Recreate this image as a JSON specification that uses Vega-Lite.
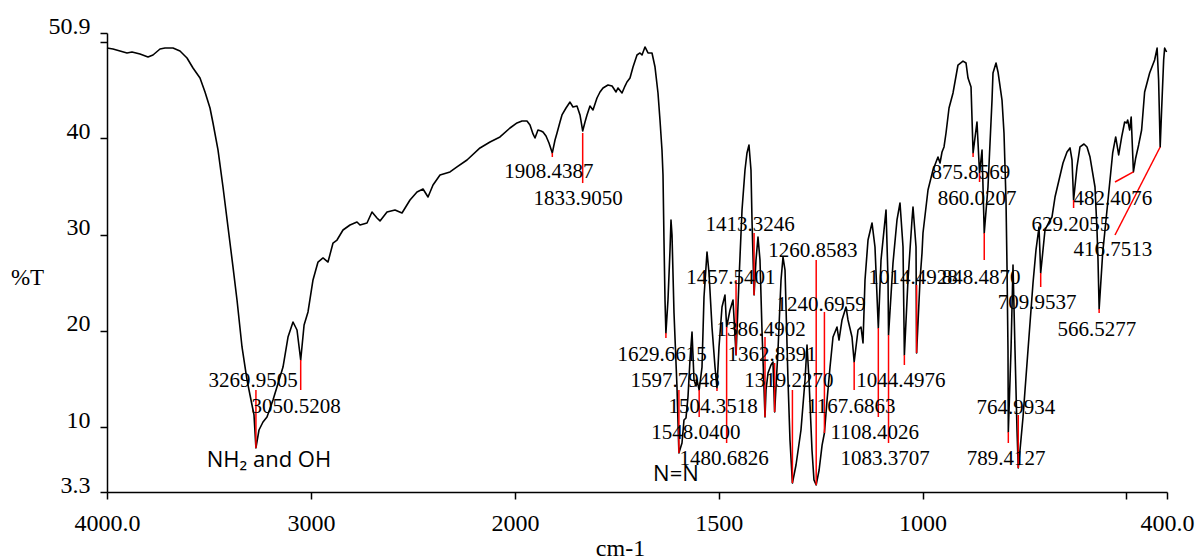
{
  "$schema": "https://vega.github.io/schema/vega-lite/v6.json",
  "width": 1060,
  "height": 459,
  "autosize": {"type": "none"},
  "padding": {"left": 107, "top": 33, "right": 31, "bottom": 67},
  "background": "white",
  "config": {"view": {"stroke": null}},
  "datasets": {
    "curve": [
      {"wn":4000,"t":49.34},{"wn":3970.6,"t":49.24},{"wn":3936.3,"t":49.03},{"wn":3902.0,"t":48.83},{"wn":3877.5,"t":48.93},{"wn":3838.2,"t":48.72},{"wn":3799.0,"t":48.41},{"wn":3774.5,"t":48.62},{"wn":3740.2,"t":49.24},{"wn":3715.7,"t":49.34},{"wn":3676.5,"t":49.34},{"wn":3642.2,"t":49.03},{"wn":3607.8,"t":48.31},{"wn":3578.4,"t":47.27},{"wn":3544.1,"t":46.23},{"wn":3519.6,"t":44.78},{"wn":3495.1,"t":43.12},{"wn":3480.4,"t":41.57},{"wn":3455.9,"t":38.77},{"wn":3431.4,"t":34.93},{"wn":3406.9,"t":30.78},{"wn":3382.3,"t":26.63},{"wn":3362.7,"t":23.21},{"wn":3338.2,"t":18.34},{"wn":3313.7,"t":14.92},{"wn":3294.1,"t":12.84},{"wn":3279.4,"t":11.29},{"wn":3269.95,"t":7.87},{"wn":3254.9,"t":9.73},{"wn":3235.3,"t":10.56},{"wn":3215.7,"t":11.08},{"wn":3186.3,"t":12.84},{"wn":3151.9,"t":15.23},{"wn":3137.2,"t":16.26},{"wn":3112.7,"t":19.37},{"wn":3088.2,"t":20.93},{"wn":3068.6,"t":20.10},{"wn":3050.52,"t":16.99},{"wn":3033.9,"t":20.62},{"wn":3014.7,"t":21.97},{"wn":2990.2,"t":25.29},{"wn":2965.7,"t":27.15},{"wn":2941.1,"t":27.57},{"wn":2916.6,"t":27.15},{"wn":2892.1,"t":29.12},{"wn":2872.5,"t":29.43},{"wn":2843.1,"t":30.47},{"wn":2808.8,"t":30.99},{"wn":2774.5,"t":31.30},{"wn":2759.8,"t":30.99},{"wn":2725.5,"t":31.20},{"wn":2701.0,"t":32.34},{"wn":2676.5,"t":31.72},{"wn":2661.7,"t":31.41},{"wn":2627.4,"t":32.34},{"wn":2588.2,"t":32.55},{"wn":2553.9,"t":32.23},{"wn":2514.7,"t":33.58},{"wn":2480.4,"t":34.41},{"wn":2450.9,"t":34.72},{"wn":2426.4,"t":33.89},{"wn":2401.9,"t":35.14},{"wn":2367.6,"t":36.17},{"wn":2318.6,"t":36.49},{"wn":2284.3,"t":37.01},{"wn":2235.3,"t":37.73},{"wn":2171.6,"t":38.98},{"wn":2122.5,"t":39.60},{"wn":2073.5,"t":40.12},{"wn":2024.5,"t":41.05},
      {"wn":1995.1,"t":41.57},{"wn":1982.8,"t":41.77},{"wn":1970.6,"t":41.77},{"wn":1963.2,"t":41.36},{"wn":1955.8,"t":40.43},{"wn":1950.9,"t":40.01},{"wn":1943.6,"t":40.84},{"wn":1936.2,"t":40.74},{"wn":1931.3,"t":40.63},{"wn":1923.9,"t":40.22},{"wn":1916.6,"t":39.49},{"wn":1908.44,"t":38.46},{"wn":1901.8,"t":39.80},{"wn":1896.9,"t":40.53},{"wn":1889.6,"t":41.67},{"wn":1884.7,"t":42.40},{"wn":1874.8,"t":43.12},{"wn":1865.0,"t":43.74},{"wn":1857.7,"t":43.23},{"wn":1847.9,"t":43.33},{"wn":1840.5,"t":42.40},{"wn":1833.91,"t":40.74},{"wn":1828.2,"t":41.67},{"wn":1823.3,"t":42.40},{"wn":1816.0,"t":43.33},{"wn":1808.6,"t":42.92},{"wn":1798.8,"t":44.16},{"wn":1791.4,"t":44.78},{"wn":1784.0,"t":45.20},{"wn":1771.8,"t":45.51},{"wn":1761.8,"t":45.40},{"wn":1752.1,"t":44.78},{"wn":1747.2,"t":45.20},{"wn":1737.4,"t":44.68},{"wn":1730.1,"t":45.40},{"wn":1725.2,"t":45.82},{"wn":1717.8,"t":46.23},{"wn":1710.4,"t":47.37},{"wn":1700.6,"t":48.62},{"wn":1693.3,"t":48.83},{"wn":1688.3,"t":48.62},{"wn":1681.0,"t":49.45},{"wn":1673.6,"t":48.83},{"wn":1663.8,"t":48.83},{"wn":1656.4,"t":47.37},{"wn":1649.1,"t":44.68},{"wn":1644.2,"t":41.88},{"wn":1639.3,"t":38.77},{"wn":1636.8,"t":36.17},{"wn":1634.4,"t":29.43},{"wn":1631.9,"t":23.21},{"wn":1629.66,"t":19.79},{"wn":1624.6,"t":23.21},{"wn":1619.6,"t":28.40},{"wn":1617.2,"t":31.51},{"wn":1614.7,"t":29.95},{"wn":1609.8,"t":21.86},{"wn":1602.5,"t":14.19},{"wn":1597.79,"t":7.35},{"wn":1590.2,"t":8.38},{"wn":1585.3,"t":10.77},{"wn":1580.4,"t":10.98},{"wn":1575.5,"t":13.15},{"wn":1570.6,"t":16.99},{"wn":1565.6,"t":19.89},{"wn":1560.7,"t":14.92},{"wn":1555.8,"t":14.29},{"wn":1553.4,"t":14.92},{"wn":1548.04,"t":13.88},{"wn":1541.1,"t":16.26},{"wn":1536.2,"t":23.52},{"wn":1528.8,"t":28.19},{"wn":1523.9,"t":26.01},{"wn":1516.6,"t":20.41},{"wn":1509.2,"t":16.26},{"wn":1504.35,"t":14.09},{"wn":1499.4,"t":18.34},{"wn":1492.0,"t":22.49},{"wn":1484.7,"t":23.73},{"wn":1480.68,"t":20.41},{"wn":1472.3,"t":22.18},{"wn":1465.0,"t":23.21},{"wn":1457.54,"t":17.51},{"wn":1450.3,"t":25.29},{"wn":1442.9,"t":32.55},{"wn":1435.6,"t":36.69},{"wn":1430.7,"t":38.46},{"wn":1425.8,"t":39.29},{"wn":1420.9,"t":36.69},{"wn":1418.4,"t":31.51},{"wn":1413.32,"t":23.73},{"wn":1408.6,"t":27.36},{"wn":1403.7,"t":29.74},{"wn":1398.8,"t":27.36},{"wn":1393.9,"t":20.10},{"wn":1386.49,"t":11.08},{"wn":1384.0,"t":13.88},{"wn":1379.1,"t":15.64},{"wn":1371.8,"t":16.47},{"wn":1366.9,"t":16.78},{"wn":1362.84,"t":11.60},{"wn":1354.6,"t":18.03},{"wn":1347.2,"t":25.29},{"wn":1342.3,"t":27.67},{"wn":1337.4,"t":26.32},{"wn":1330.1,"t":14.92},{"wn":1325.2,"t":8.69},{"wn":1319.23,"t":4.23},{"wn":1310.4,"t":6.10},{"wn":1298.2,"t":9.73},{"wn":1288.3,"t":14.92},{"wn":1283.4,"t":18.55},{"wn":1278.5,"t":14.92},{"wn":1271.2,"t":7.66},{"wn":1266.3,"t":4.55},{"wn":1260.86,"t":4.03},{"wn":1253.7,"t":5.58},{"wn":1246.4,"t":8.17},{"wn":1240.70,"t":9.42},{"wn":1234.2,"t":12.84},{"wn":1226.9,"t":16.26},{"wn":1219.6,"t":19.37},{"wn":1209.8,"t":20.41},{"wn":1204.9,"t":19.06},{"wn":1197.5,"t":21.14},{"wn":1187.7,"t":22.49},{"wn":1182.8,"t":21.14},{"wn":1173.0,"t":19.37},{"wn":1167.69,"t":16.78},{"wn":1158.2,"t":20.10},{"wn":1150.9,"t":20.41},{"wn":1146.0,"t":18.76},{"wn":1141.1,"t":25.29},{"wn":1133.7,"t":29.43},{"wn":1123.9,"t":31.20},{"wn":1116.6,"t":28.71},{"wn":1108.40,"t":20.31},{"wn":1101.8,"t":27.36},{"wn":1096.9,"t":29.43},{"wn":1089.5,"t":32.55},{"wn":1084.6,"t":25.29},{"wn":1083.37,"t":19.58},{"wn":1072.4,"t":27.05},{"wn":1062.6,"t":31.51},{"wn":1055.2,"t":33.27},{"wn":1047.8,"t":28.71},{"wn":1044.50,"t":17.51},{"wn":1035.6,"t":25.29},{"wn":1025.8,"t":31.51},{"wn":1023.3,"t":32.86},{"wn":1015.9,"t":28.71},{"wn":1014.49,"t":17.72},{"wn":1006.1,"t":25.29},{"wn":1001.2,"t":28.09},{"wn":998.8,"t":30.16},{"wn":986.5,"t":34.62},{"wn":974.3,"t":36.69},{"wn":962.0,"t":38.04},{"wn":957.0,"t":37.42},{"wn":952.1,"t":38.56},{"wn":947.2,"t":39.08},{"wn":942.3,"t":40.53},{"wn":934.9,"t":43.12},{"wn":925.1,"t":44.68},{"wn":912.9,"t":47.58},{"wn":900.6,"t":47.99},{"wn":893.2,"t":47.79},{"wn":888.3,"t":46.23},{"wn":880.9,"t":45.30},{"wn":875.86,"t":38.46},{"wn":866.3,"t":41.67},{"wn":860.02,"t":36.38},{"wn":853.9,"t":38.77},{"wn":848.49,"t":30.16},{"wn":839.3,"t":34.93},{"wn":829.4,"t":43.95},{"wn":827.0,"t":46.75},{"wn":819.6,"t":47.79},{"wn":814.7,"t":46.86},{"wn":804.9,"t":43.95},{"wn":800.0,"t":40.53},{"wn":795.1,"t":33.58},{"wn":792.6,"t":26.63},{"wn":790.2,"t":18.03},{"wn":789.41,"t":9.52},{"wn":782.8,"t":18.03},{"wn":777.9,"t":26.84},{"wn":773.0,"t":18.03},{"wn":768.1,"t":9.73},{"wn":764.99,"t":5.79},{"wn":760.7,"t":7.66},{"wn":753.3,"t":11.08},{"wn":741.1,"t":18.03},{"wn":728.8,"t":24.97},{"wn":721.5,"t":28.40},{"wn":714.1,"t":30.78},{"wn":709.95,"t":26.01},{"wn":699.4,"t":30.47},{"wn":689.6,"t":31.30},{"wn":682.2,"t":31.82},{"wn":674.8,"t":33.89},{"wn":665.0,"t":35.66},{"wn":655.2,"t":37.42},{"wn":645.4,"t":38.56},{"wn":638.0,"t":38.98},{"wn":633.1,"t":37.73},{"wn":629.21,"t":33.58},{"wn":620.9,"t":37.01},{"wn":613.5,"t":39.08},{"wn":603.7,"t":39.39},{"wn":596.3,"t":39.08},{"wn":588.9,"t":38.04},{"wn":576.7,"t":34.93},{"wn":571.8,"t":30.47},{"wn":569.3,"t":27.36},{"wn":566.53,"t":22.28},{"wn":557.8,"t":28.09},{"wn":545.5,"t":33.27},{"wn":533.3,"t":38.46},{"wn":525.9,"t":40.12},{"wn":518.6,"t":38.25},{"wn":511.2,"t":40.12},{"wn":503.9,"t":41.67},{"wn":499.0,"t":41.57},{"wn":496.5,"t":41.88},{"wn":491.6,"t":40.84},{"wn":487.9,"t":42.19},{"wn":482.41,"t":36.49},{"wn":476.8,"t":37.94},{"wn":469.6,"t":39.29},{"wn":462.3,"t":40.84},{"wn":454.9,"t":44.78},{"wn":442.6,"t":46.75},{"wn":430.4,"t":48.10},{"wn":424.3,"t":49.34},{"wn":420.6,"t":46.03},{"wn":416.75,"t":39.08},{"wn":413.2,"t":42.92},{"wn":408.2,"t":48.10},{"wn":405.8,"t":49.34},{"wn":401,"t":48.93}
    ],
    "rules": [
      {"wn":3269.95,"wn2":3269.95,"t":13.88,"t2":7.87},
      {"wn":3050.52,"wn2":3050.52,"t":16.99,"t2":13.88},
      {"wn":1908.44,"wn2":1908.44,"t":38.46,"t2":38.04},
      {"wn":1833.91,"wn2":1833.91,"t":40.53,"t2":35.34},
      {"wn":1629.66,"wn2":1629.66,"t":19.79,"t2":19.27},
      {"wn":1597.79,"wn2":1597.79,"t":13.88,"t2":7.35},
      {"wn":1548.04,"wn2":1548.04,"t":13.88,"t2":11.08},
      {"wn":1504.35,"wn2":1504.35,"t":14.09,"t2":13.77},
      {"wn":1480.68,"wn2":1480.68,"t":20.41,"t2":8.38},
      {"wn":1457.54,"wn2":1457.54,"t":25.29,"t2":17.51},
      {"wn":1413.32,"wn2":1413.32,"t":30.16,"t2":23.73},
      {"wn":1386.49,"wn2":1386.49,"t":19.37,"t2":11.08},
      {"wn":1362.84,"wn2":1362.84,"t":16.68,"t2":11.60},
      {"wn":1319.23,"wn2":1319.23,"t":13.88,"t2":4.23},
      {"wn":1260.86,"wn2":1260.86,"t":27.36,"t2":4.03},
      {"wn":1240.70,"wn2":1240.70,"t":21.97,"t2":9.42},
      {"wn":1167.69,"wn2":1167.69,"t":16.78,"t2":13.88},
      {"wn":1108.40,"wn2":1108.40,"t":20.31,"t2":11.08},
      {"wn":1083.37,"wn2":1083.37,"t":19.58,"t2":8.38},
      {"wn":1044.50,"wn2":1044.50,"t":17.51,"t2":16.47},
      {"wn":1014.49,"wn2":1014.49,"t":24.77,"t2":17.72},
      {"wn":875.86,"wn2":875.86,"t":38.46,"t2":38.04},
      {"wn":860.02,"wn2":860.02,"t":36.38,"t2":35.45},
      {"wn":848.49,"wn2":848.49,"t":30.16,"t2":27.36},
      {"wn":789.41,"wn2":789.41,"t":9.52,"t2":8.38},
      {"wn":764.99,"wn2":764.99,"t":11.29,"t2":5.79},
      {"wn":709.95,"wn2":709.95,"t":26.01,"t2":24.56},
      {"wn":629.21,"wn2":629.21,"t":33.58,"t2":32.75},
      {"wn":566.53,"wn2":566.53,"t":22.28,"t2":21.86},
      {"wn":527.6,"wn2":482.41,"t":35.45,"t2":36.49},
      {"wn":527.6,"wn2":416.75,"t":29.95,"t2":39.08}
    ],
    "labels": [
      {"label":"3269.9505","wn":3284,"t":14.81},
      {"label":"3050.5208","wn":3073,"t":12.12},
      {"label":"1908.4387","wn":1917,"t":36.49},
      {"label":"1833.9050","wn":1845,"t":33.69},
      {"label":"1413.3246","wn":1423,"t":30.99},
      {"label":"1260.8583","wn":1269,"t":28.29},
      {"label":"1457.5401","wn":1470,"t":25.49},
      {"label":"1240.6959","wn":1249,"t":22.69},
      {"label":"1386.4902","wn":1396,"t":20.10},
      {"label":"1629.6615","wn":1639,"t":17.51},
      {"label":"1362.8391","wn":1369,"t":17.51},
      {"label":"1597.7948","wn":1607,"t":14.81},
      {"label":"1319.2270","wn":1328,"t":14.81},
      {"label":"1504.3518","wn":1514,"t":12.12},
      {"label":"1167.6863","wn":1175,"t":12.12},
      {"label":"1548.0400","wn":1556,"t":9.42},
      {"label":"1108.4026","wn":1117,"t":9.42},
      {"label":"1480.6826","wn":1487,"t":6.72},
      {"label":"1083.3707","wn":1092,"t":6.72},
      {"label":"1044.4976","wn":1053,"t":14.81},
      {"label":"1014.4928","wn":1023,"t":25.49},
      {"label":"848.4870","wn":856,"t":25.49},
      {"label":"875.8569","wn":881,"t":36.38},
      {"label":"860.0207","wn":866,"t":33.69},
      {"label":"764.9934","wn":771,"t":12.01},
      {"label":"789.4127","wn":795,"t":6.72},
      {"label":"709.9537","wn":719,"t":22.90},
      {"label":"629.2055","wn":636,"t":30.99},
      {"label":"566.5277","wn":572,"t":20.10},
      {"label":"482.4076","wn":533,"t":33.69},
      {"label":"416.7513","wn":533,"t":28.40}
    ],
    "notes": [
      {"label":"NH₂ and OH","wn":3206,"t":6.62},
      {"label":"N=N","wn":1605,"t":5.17}
    ]
  },
  "encoding": {
    "x": {
      "field": "wn",
      "type": "quantitative",
      "scale": {"type": "linear", "domain": [4000, 2000, 400], "range": [0, 408, 1060], "nice": false, "zero": false},
      "axis": {
        "values": [4000, 3000, 2000, 1500, 1000, 500, 400],
        "labelExpr": "datum.value == 4000 ? '4000.0' : datum.value == 400 ? '400.0' : datum.value == 500 ? '' : '' + datum.value",
        "labelFont": "Times New Roman, Liberation Serif, DejaVu Serif, serif",
        "labelFontSize": 24,
        "labelColor": "black",
        "labelBaseline": "top",
        "labelPadding": 12,
        "labelOverlap": false,
        "labelFlush": false,
        "tickSize": 7,
        "tickWidth": 1.5,
        "tickColor": "black",
        "domainColor": "black",
        "domainWidth": 1.5,
        "grid": false,
        "title": "cm-1",
        "titleFont": "Times New Roman, Liberation Serif, DejaVu Serif, serif",
        "titleFontSize": 24,
        "titleFontWeight": "normal",
        "titleColor": "black",
        "titleX": 513,
        "titleY": 56,
        "titleAlign": "center",
        "titleBaseline": "middle"
      }
    },
    "y": {
      "field": "t",
      "type": "quantitative",
      "scale": {"domain": [3.3, 50.9], "nice": false, "zero": false},
      "axis": {
        "values": [3.3, 10, 20, 30, 40, 50, 50.9],
        "labelExpr": "datum.value == 50 ? '' : '' + datum.value",
        "labelFont": "Times New Roman, Liberation Serif, DejaVu Serif, serif",
        "labelFontSize": 24,
        "labelColor": "black",
        "labelBaseline": "alphabetic",
        "labelPadding": 10,
        "labelOverlap": false,
        "labelFlush": false,
        "tickSize": 7,
        "tickWidth": 1.5,
        "tickColor": "black",
        "domainColor": "black",
        "domainWidth": 1.5,
        "grid": false,
        "title": "%T",
        "titleFont": "Times New Roman, Liberation Serif, DejaVu Serif, serif",
        "titleFontSize": 23,
        "titleFontWeight": "normal",
        "titleColor": "black",
        "titleAngle": 0,
        "titleX": -80,
        "titleY": 244,
        "titleAlign": "center",
        "titleBaseline": "middle"
      }
    }
  },
  "layer": [
    {
      "data": {"name": "curve"},
      "mark": {"type": "line", "color": "black", "strokeWidth": 1.6, "strokeJoin": "round"},
      "encoding": {}
    },
    {
      "data": {"name": "rules"},
      "mark": {"type": "rule", "color": "#ff0000", "strokeWidth": 1.5},
      "encoding": {
        "x2": {"field": "wn2"},
        "y2": {"field": "t2"}
      }
    },
    {
      "data": {"name": "labels"},
      "mark": {"type": "text", "font": "Times New Roman, Liberation Serif, DejaVu Serif, serif", "fontSize": 21, "color": "black", "align": "center", "baseline": "middle"},
      "encoding": {"text": {"field": "label", "type": "nominal"}}
    },
    {
      "data": {"name": "notes"},
      "mark": {"type": "text", "font": "Open Sans", "fontSize": 22, "color": "black", "align": "center", "baseline": "middle"},
      "encoding": {"text": {"field": "label", "type": "nominal"}}
    }
  ]
}
